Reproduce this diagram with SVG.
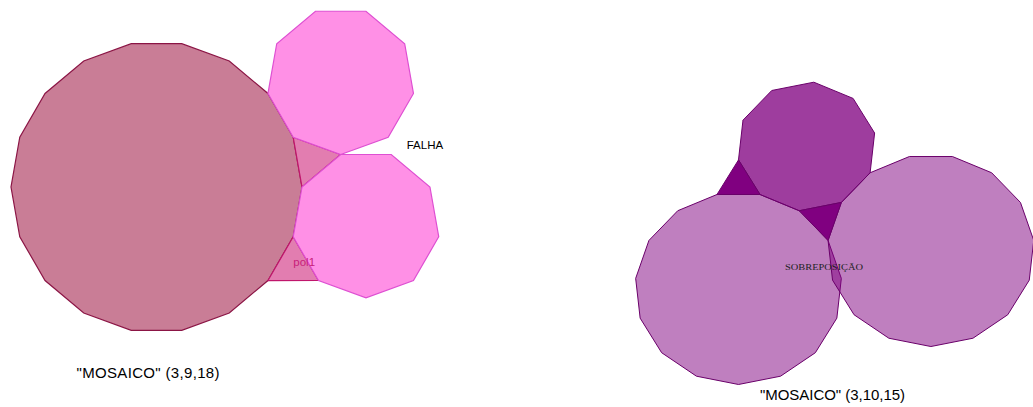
<svg xmlns="http://www.w3.org/2000/svg" width="1033" height="407" viewBox="0 0 1033 407">
<style>
.big{fill:#C97D96;stroke:#8B1545;stroke-width:1.2}
.non{fill:#FF90E6;stroke:#DE4FD2;stroke-width:1.2}
.tri{fill:#E27DB0;stroke:#C0166C;stroke-width:1.2}
.p15{fill:#800080;fill-opacity:0.5;stroke:#6A006A;stroke-width:1;vector-effect:non-scaling-stroke}
.p10{fill:#800080;fill-opacity:0.76;stroke:#6A006A;stroke-width:1;vector-effect:non-scaling-stroke}
.p3{fill:#800080;stroke:#6A006A;stroke-width:1;vector-effect:non-scaling-stroke}
.lbl{font-family:"Liberation Sans",Arial,sans-serif}
</style>
<rect width="1033" height="407" fill="#FFFFFF"/>
<g id="mosaic-3-9-18">
<g id="octadecagon"><polygon class="big" points="302,187 293.22,137.24 267.96,93.47 229.25,60.99 181.77,43.71 131.23,43.71 83.75,60.99 45.04,93.47 19.78,137.24 11,187 19.78,236.76 45.04,280.53 83.75,313.01 131.23,330.29 181.77,330.29 229.25,313.01 267.96,280.53 293.22,236.76"/></g>
<g id="triangle-top"><polygon class="tri" points="293.22,137.24 340.71,154.52 302,187"/></g>
<g id="pol1"><polygon class="tri" points="293.22,236.76 318.5,280.51 267.96,280.53"/></g>
<g id="nonagon-upper"><polygon class="non" points="340.71,154.52 388.19,137.23 413.46,93.48 404.68,43.72 365.97,11.23 315.45,11.23 276.74,43.72 267.96,93.48 293.23,137.23"/></g>
<g id="nonagon-lower"><polygon class="non" points="302.01,186.99 293.23,236.76 318.5,280.51 365.98,297.8 413.46,280.51 438.73,236.76 429.95,186.99 391.24,154.52 340.72,154.52"/></g>
<text class="lbl" x="293.3" y="265.5" font-size="11.5" fill="#C8207A">pol1</text>
<text class="lbl" x="406.7" y="148.5" font-size="11.5" fill="#000000">FALHA</text>
<text class="lbl" x="76.5" y="378.3" font-size="15" fill="#000000" textLength="143" lengthAdjust="spacing">"MOSAICO" (3,9,18)</text>
</g>
<g id="mosaic-3-10-15">
<g transform="matrix(1.0118 0 0 -0.9398 738.5 288.45)">
<g id="pentadecagon-left"><polygon class="p15" points="21.25,99.97 60.07,82.68 88.51,51.10 101.64,10.68 97.20,-31.58 75.95,-68.38 41.57,-93.36 0,-102.2 -41.57,-93.36 -75.95,-68.38 -97.20,-31.58 -101.64,10.68 -88.51,51.10 -60.07,82.68 -21.25,99.97"/></g>
<g id="pentadecagon-right"><polygon class="p15" points="101.65,91.52 88.52,51.08 92.96,8.82 114.21,-27.98 148.60,-52.96 190.16,-61.80 231.72,-52.96 266.11,-27.98 287.36,8.82 291.80,51.08 278.67,91.50 250.23,123.08 211.41,140.37 168.91,140.37 130.09,123.08"/></g>
<g id="decagon"><polygon class="p10" points="21.25,99.97 60.07,82.69 101.65,91.52 130.08,123.11 134.53,165.38 113.28,202.19 74.45,219.47 32.87,210.64 4.44,179.05 -0.01,136.78"/></g>
<g id="triangle-left"><polygon class="p3" points="-21.25,99.97 21.25,99.97 0,136.78"/></g>
<g id="triangle-mid"><polygon class="p3" points="60.07,82.68 101.65,91.52 88.51,51.10"/></g>
</g>
<text x="785" y="269.5" font-family="'Liberation Serif',serif" font-size="8" fill="#222222" textLength="78" lengthAdjust="spacingAndGlyphs">SOBREPOSIÇÃO</text>
<text class="lbl" x="760" y="400" font-size="15" fill="#000000" textLength="145" lengthAdjust="spacing">"MOSAICO" (3,10,15)</text>
</g>
</svg>
